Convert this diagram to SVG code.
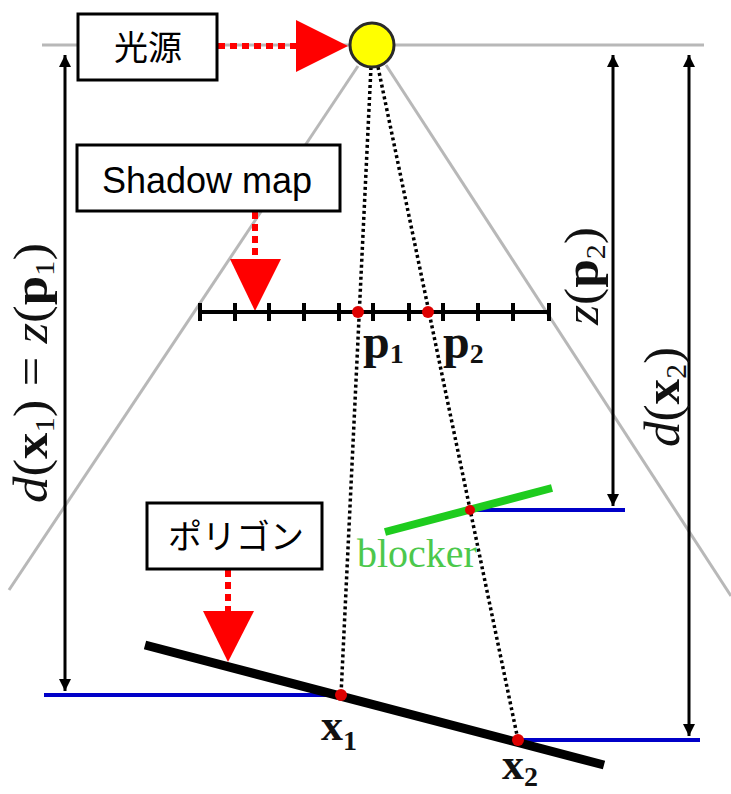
<svg xmlns="http://www.w3.org/2000/svg" width="731" height="794" viewBox="0 0 731 794">
<defs>
<style>
.box{fill:#fff;stroke:#000;stroke-width:3}
.jp{font-family:"Noto Sans CJK JP","Noto Sans",sans-serif;font-size:34px;fill:#000}
.en{font-family:"Liberation Sans",Arial,sans-serif;font-size:36px;fill:#000}
.ser{font-family:"Liberation Serif","Times New Roman",serif;fill:#111}
.gray{stroke:#b8b8b8;stroke-width:3;fill:none}
.dot{stroke:#000;stroke-width:3.5;stroke-dasharray:3 3;fill:none}
.reddash{stroke:#ff0000;stroke-width:6;stroke-dasharray:7 5;fill:none}
.dim{stroke:#000;stroke-width:3;fill:none;marker-start:url(#ah);marker-end:url(#ah)}
.blue{stroke:#0000c8;stroke-width:4;fill:none}
.pt{fill:#dd0000}
.b{font-weight:bold}
.i{font-style:italic}
</style>
<marker id="ah" viewBox="0 0 10 10" refX="10" refY="5" markerWidth="4" markerHeight="4.5" orient="auto-start-reverse" markerUnits="strokeWidth">
<path d="M0,0 L10,5 L0,10 Z" fill="#000"/>
</marker>
</defs>
<rect width="731" height="794" fill="#fff"/>

<g id="connectors">
<line class="gray" x1="42" y1="45" x2="704" y2="45"/>
<line class="gray" x1="358" y1="66" x2="9" y2="590"/>
<line class="gray" x1="386" y1="65" x2="731" y2="596"/>
<line class="dot" x1="371" y1="67" x2="341" y2="695"/>
<line class="dot" x1="378" y1="67" x2="518" y2="740"/>
<line class="dim" x1="65" y1="55" x2="65" y2="691"/>
<line class="dim" x1="613" y1="55" x2="613" y2="506"/>
<line class="dim" x1="689" y1="55" x2="689" y2="736"/>
<line class="blue" x1="44" y1="695" x2="341" y2="695"/>
<line class="blue" x1="470" y1="510" x2="625" y2="510"/>
<line class="blue" x1="518" y1="740" x2="700" y2="740"/>
<line class="reddash" x1="218" y1="46" x2="296" y2="46"/>
<polygon points="296,20 296,72 348,46" fill="#ff0000"/>
<line class="reddash" x1="255" y1="212" x2="255" y2="258"/>
<polygon points="230,259 281,259 255,311" fill="#ff0000"/>
<line class="reddash" x1="228" y1="570" x2="228" y2="611"/>
<polygon points="203,611 254,611 228,662" fill="#ff0000"/>
</g>

<g id="light">
<circle cx="372" cy="45" r="22" fill="#ffff00" stroke="#2a2a2a" stroke-width="3"/>
</g>

<g id="label-light">
<rect class="box" x="78" y="14" width="139" height="66"/>
<text class="jp" x="148" y="60" text-anchor="middle">光源</text>
</g>

<g id="label-shadowmap">
<rect class="box" x="77" y="145" width="263" height="66"/>
<text class="en" x="207" y="193" text-anchor="middle">Shadow map</text>
</g>

<g id="label-polygon">
<rect class="box" x="147" y="503" width="175" height="66"/>
<text class="jp" x="236" y="549" text-anchor="middle">ポリゴン</text>
</g>

<g id="shadowmap">
<line x1="200" y1="312" x2="549" y2="312" stroke="#000" stroke-width="4"/>
<path d="M200,303V321M235,303V321M269,303V321M304,303V321M339,303V321M373,303V321M409,303V321M443,303V321M478,303V321M513,303V321M549,303V321" stroke="#000" stroke-width="4"/>
<circle class="pt" cx="358" cy="312" r="6"/>
<circle class="pt" cx="428" cy="312" r="6"/>
<text class="ser b" x="363" y="358" font-size="48">p<tspan font-size="28" dy="5">1</tspan></text>
<text class="ser b" x="443" y="358" font-size="48">p<tspan font-size="28" dy="5">2</tspan></text>
</g>

<g id="blocker">
<line x1="385" y1="532" x2="552" y2="488" stroke="#1ecc1e" stroke-width="8"/>
<circle class="pt" cx="470" cy="510" r="5"/>
<text x="357" y="567" font-family="'Liberation Serif','Times New Roman',serif" font-size="40" fill="#4cc84c">blocker</text>
</g>

<g id="polygon">
<line x1="145" y1="645" x2="604" y2="765" stroke="#000" stroke-width="9"/>
<circle class="pt" cx="341" cy="695" r="6"/>
<circle class="pt" cx="518" cy="740" r="6"/>
<text class="ser b" x="321" y="740" font-size="44">x<tspan font-size="28" dy="10">1</tspan></text>
<text class="ser b" x="502" y="779" font-size="44">x<tspan font-size="28" dy="7">2</tspan></text>
</g>

<g id="dim-labels">
<text class="ser" font-size="48" transform="translate(47,373) rotate(-90)" text-anchor="middle" textLength="260" lengthAdjust="spacingAndGlyphs"><tspan class="i">d</tspan>(<tspan class="b">x</tspan><tspan font-size="28" dy="7">1</tspan><tspan dy="-7">) = </tspan><tspan class="i">z</tspan>(<tspan class="b">p</tspan><tspan font-size="28" dy="7">1</tspan><tspan dy="-7">)</tspan></text>
<text class="ser" font-size="48" transform="translate(598,276) rotate(-90)" text-anchor="middle" textLength="98" lengthAdjust="spacingAndGlyphs"><tspan class="i">z</tspan>(<tspan class="b">p</tspan><tspan font-size="28" dy="7">2</tspan><tspan dy="-7">)</tspan></text>
<text class="ser" font-size="50" transform="translate(679,397) rotate(-90)" text-anchor="middle" textLength="100" lengthAdjust="spacingAndGlyphs"><tspan class="i">d</tspan>(<tspan class="b">x</tspan><tspan font-size="29" dy="7">2</tspan><tspan dy="-7">)</tspan></text>
</g>
</svg>
